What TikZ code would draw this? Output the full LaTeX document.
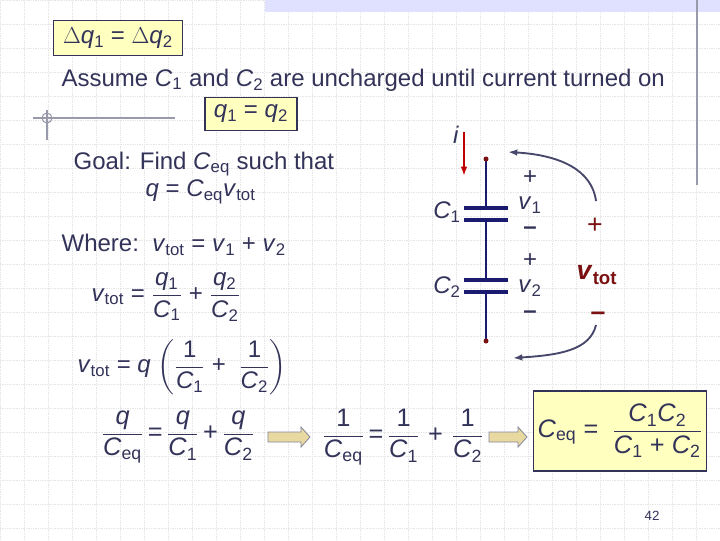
\documentclass[tikz,border=0pt]{standalone}
\usepackage{amsmath}
\usepackage{fontspec}
\setmainfont{Liberation Sans}
\usetikzlibrary{arrows.meta}
\definecolor{ink}{HTML}{33335A}
\definecolor{boxy}{HTML}{FFFFC0}
\definecolor{wire}{HTML}{1A1A6E}
\definecolor{dred}{HTML}{7A1010}
\definecolor{tan}{HTML}{E8D9A0}
\newcommand{\mi}[1]{\textit{#1}}
\newcommand{\sbs}[1]{\textsubscript{#1}}
\newcommand{\fr}[2]{$\dfrac{\text{#1}}{\text{#2}}$}
\begin{document}
\begin{tikzpicture}[x=0.75pt,y=-0.75pt,
  txt/.style={text=ink,font=\fontsize{18}{20}\selectfont,inner sep=1pt},
  ybox/.style={draw=ink,fill=boxy,line width=0.8pt,inner sep=4pt},
  plate/.style={draw=wire,line width=2.4pt},
  barrow/.style={draw=ink!60,fill=tan,line width=0.6pt}]
\useasboundingbox (0,0) rectangle (720,540);
\fill[white] (0,0) rectangle (720,540);
\foreach \x in {0,24,...,720} \draw[black!10,line width=0.3pt,densely dotted] (\x,0)--(\x,540);
\foreach \y in {0,24,...,540} \draw[black!10,line width=0.3pt,densely dotted] (0,\y)--(720,\y);
\fill[blue!12] (265,0) rectangle (720,12);
\draw[ink!50,line width=0.8pt] (697,0)--(697,185);
\draw[ink!50,line width=0.8pt] (33,118)--(175,118) (47,110)--(47,140);
\draw[ink!50,line width=0.8pt] (47,118) circle (5);
\node[ybox,txt,minimum width=97pt,minimum height=26pt] (b1) at (118,38) {$\Delta$\mi{q}\sbs{1} = $\Delta$\mi{q}\sbs{2}};
\node[txt,anchor=west] (as) at (60,80) {Assume \mi{C}\sbs{1} and \mi{C}\sbs{2} are uncharged until current turned on};
\node[ybox,txt,minimum width=69pt,minimum height=25pt] (b2) at (251,114) {\mi{q}\sbs{1} = \mi{q}\sbs{2}};
\node[txt,anchor=west] (g1) at (72,164) {Goal: Find \mi{C}\sbs{eq} such that};
\node[txt,anchor=west] (g2) at (144,192) {\mi{q} = \mi{C}\sbs{eq}\mi{v}\sbs{tot}};
\node[txt,anchor=west] (w) at (60,245) {Where:\ \ \mi{v}\sbs{tot} = \mi{v}\sbs{1} + \mi{v}\sbs{2}};
\node[txt,anchor=west] (e1) at (90,297) {\mi{v}\sbs{tot} = \fr{\mi{q}\sbs{1}}{\mi{C}\sbs{1}}\;+\;\fr{\mi{q}\sbs{2}}{\mi{C}\sbs{2}}};
\node[txt,anchor=west] (e2) at (76,367) {\mi{v}\sbs{tot} = \mi{q} $\left(\text{\fr{1}{\mi{C}\sbs{1}}\;+\; \fr{1}{\mi{C}\sbs{2}}}\right)$};
\node[txt,font=\fontsize{19}{22}\selectfont] (e3) at (178,437) {\fr{\mi{q}}{\mi{C}\sbs{eq}}\,=\,\fr{\mi{q}}{\mi{C}\sbs{1}}\,+\,\fr{\mi{q}}{\mi{C}\sbs{2}}};
\draw[barrow] (268,432)--(301,432)--(301,427)--(310,437)--(301,447)--(301,442)--(268,442)--cycle;
\node[txt,font=\fontsize{19}{22}\selectfont] (e4) at (403,437) {\fr{1}{\mi{C}\sbs{eq}}\,=\,\fr{1}{\mi{C}\sbs{1}}\,\,+\,\,\fr{1}{\mi{C}\sbs{2}}};
\draw[barrow] (489,432)--(518,432)--(518,427)--(527,437)--(518,447)--(518,442)--(489,442)--cycle;
\node[ybox,txt,minimum width=130pt,minimum height=60pt,font=\fontsize{19}{22}\selectfont] (b3) at (620,431) {\mi{C}\sbs{eq} = \ \fr{\mi{C}\sbs{1}\mi{C}\sbs{2}}{\mi{C}\sbs{1} + \mi{C}\sbs{2}}};
% circuit
\coordinate (t) at (486,159); \coordinate (bt) at (486,341);
\draw[wire,line width=1.8pt] (t)--(486,208) (486,220)--(486,280) (486,292)--(bt);
\draw[plate] (464,208)--(508,208) (464,220)--(508,220) (464,280)--(508,280) (464,292)--(508,292);
\fill[dred] (t) circle (2.5) (bt) circle (2.5);
\node[txt] (c1) at (447,212) {\mi{C}\sbs{1}};
\node[txt] (c2) at (447,287) {\mi{C}\sbs{2}};
\node[txt] (i) at (456,135) {\mi{i}};
\coordinate (ia) at (464,132); \coordinate (ib) at (464,176);
\draw[red!75!black,line width=1.6pt,-{Latex[length=7pt,width=5pt]}] (ia)--(ib);
\node[txt] (p1) at (530,178) {+};
\node[txt] (v1) at (530,205) {\mi{v}\sbs{1}};
\node[txt] (m1) at (530,231) {\textbf{--}};
\node[txt] (p2) at (530,261) {+};
\node[txt] (v2) at (530,288) {\mi{v}\sbs{2}};
\node[txt] (m2) at (530,315) {\textbf{--}};
\node[txt,text=dred,font=\fontsize{20}{22}\selectfont] (pt) at (595,226) {+};
\node[text=dred,font=\fontsize{20}{22}\selectfont\bfseries] (vt) at (597,275) {\mi{v}\sbs{tot}};
\node[txt,text=dred,font=\fontsize{20}{22}\selectfont] (mt) at (598,316) {\textbf{--}};
\coordinate (ua) at (596,201); \coordinate (ub) at (508,152);
\coordinate (la) at (596,325); \coordinate (lb) at (513,358);
\draw[ink!90,line width=1.4pt,-{Latex[length=7pt,width=5pt]}] (ua) .. controls (592,170) and (560,155) .. (ub);
\draw[ink!90,line width=1.4pt,-{Latex[length=7pt,width=5pt]}] (la) .. controls (590,350) and (560,355) .. (lb);
\node[text=ink,font=\fontsize{10}{12}\selectfont] (pg) at (652,516) {42};
\end{tikzpicture}
\end{document}
